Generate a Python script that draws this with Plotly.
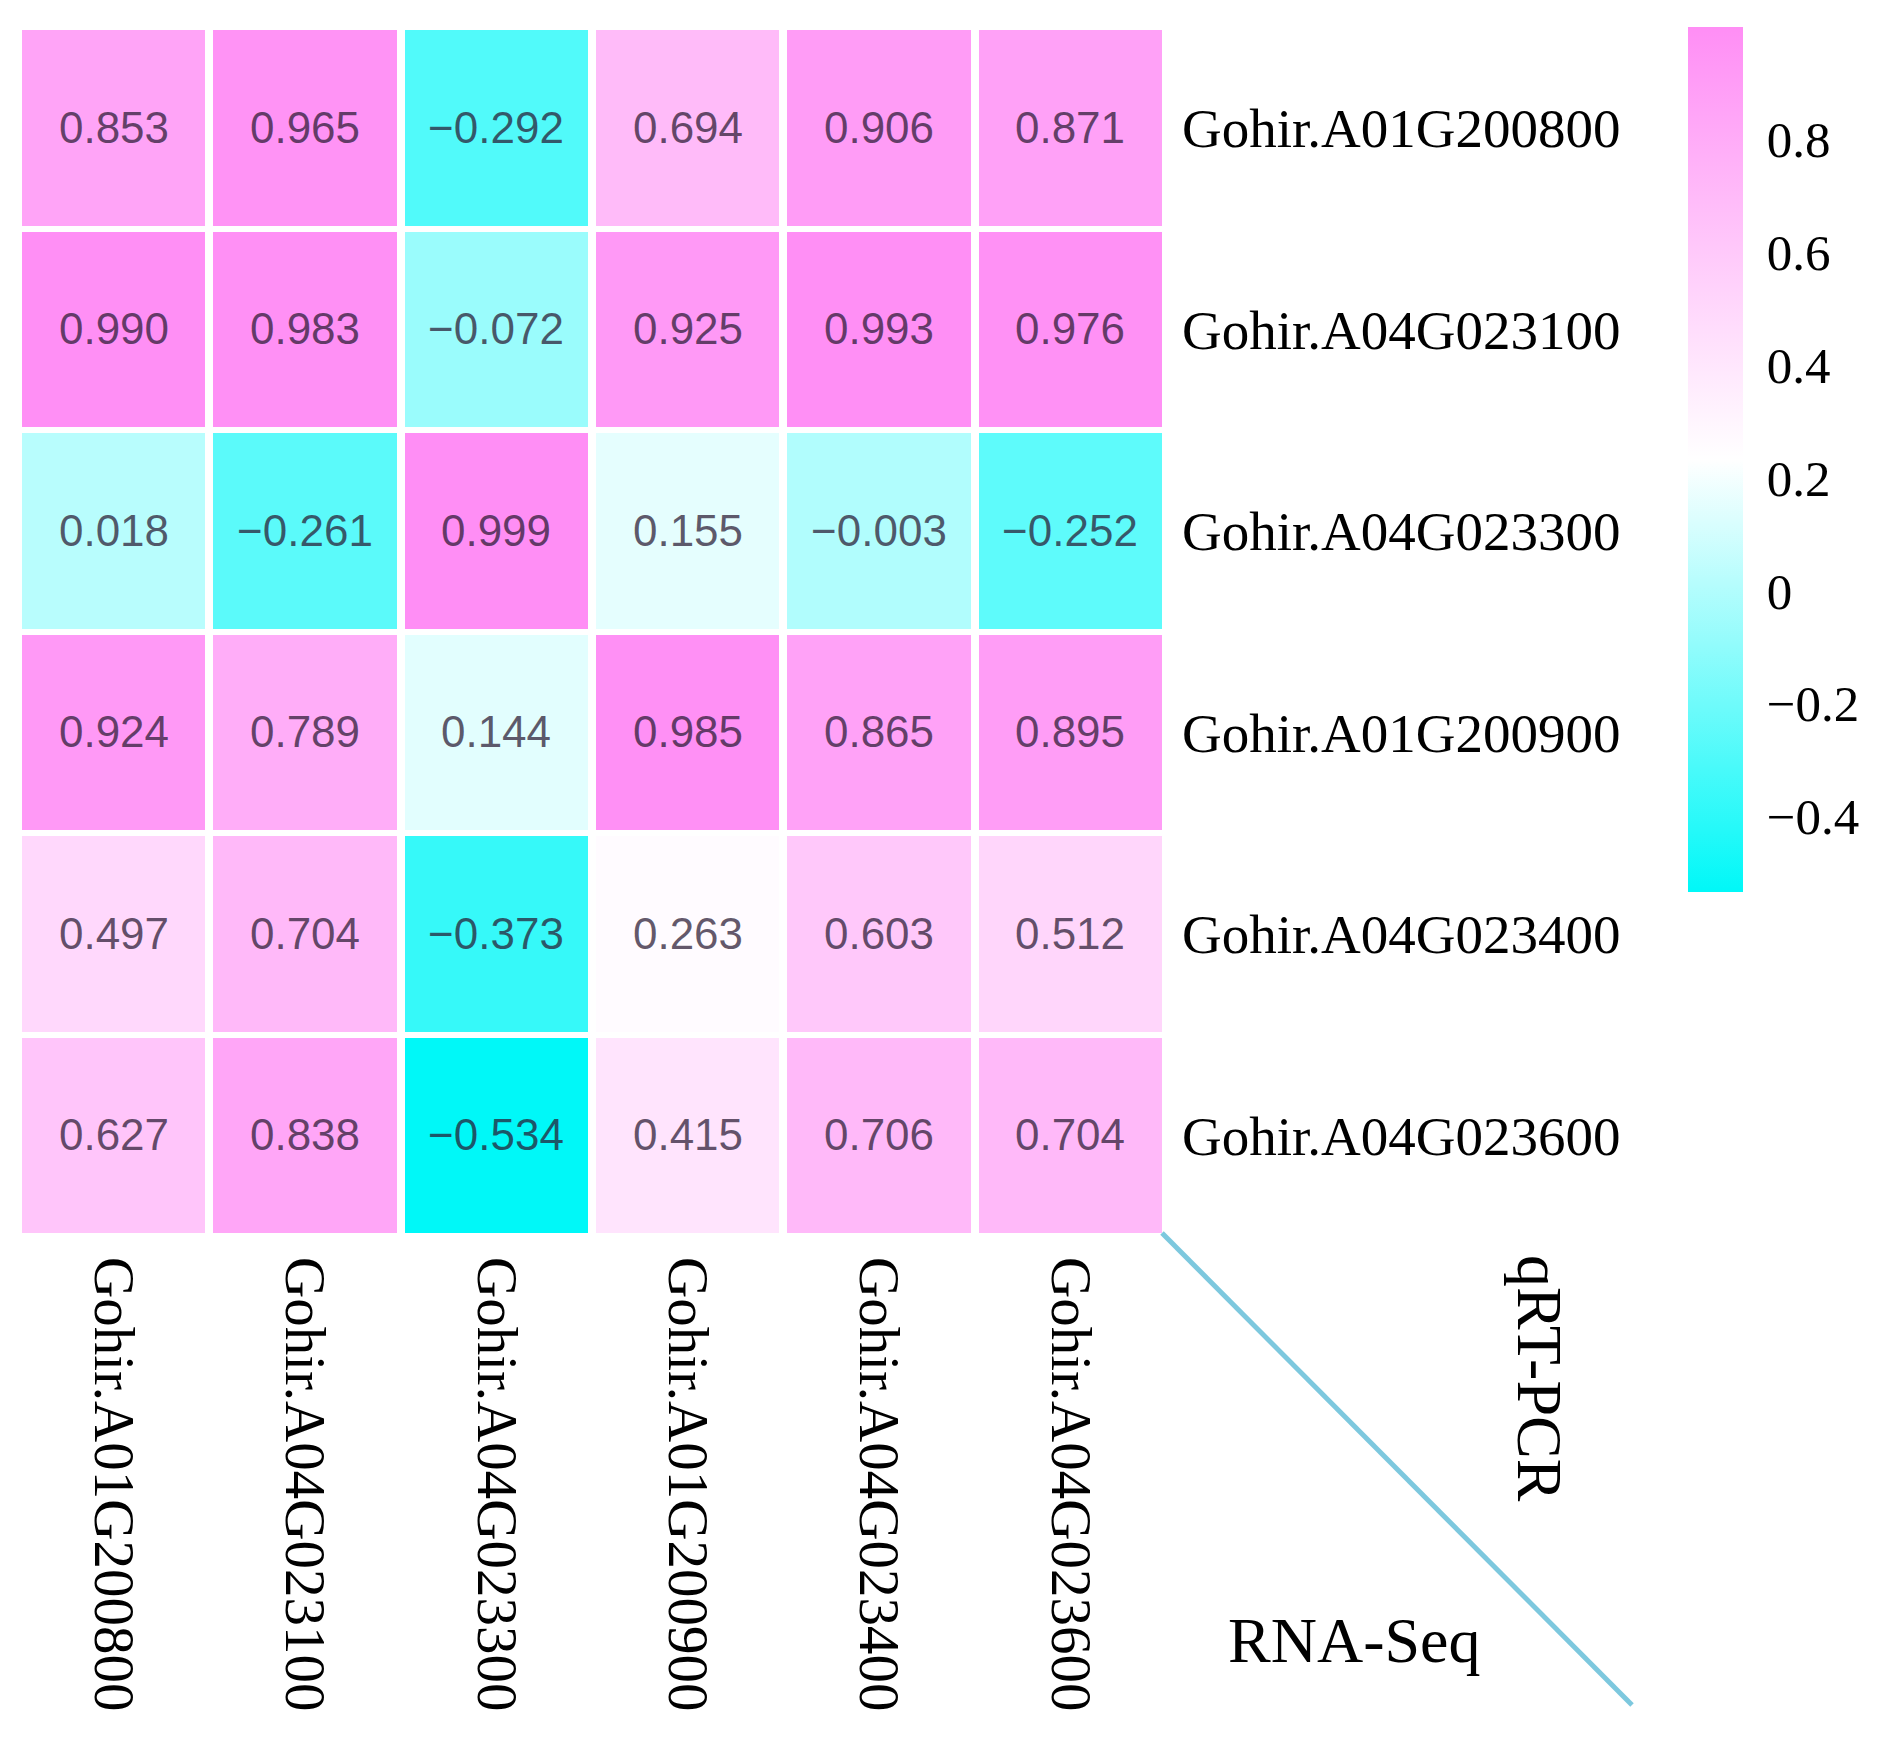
import plotly.graph_objects as go

# ---- data ----
row_labels = ["Gohir.A01G200800", "Gohir.A04G023100", "Gohir.A04G023300",
              "Gohir.A01G200900", "Gohir.A04G023400", "Gohir.A04G023600"]
col_labels = ["Gohir.A01G200800", "Gohir.A04G023100", "Gohir.A04G023300",
              "Gohir.A01G200900", "Gohir.A04G023400", "Gohir.A04G023600"]
corr_A01G200800 = [0.853, 0.965, -0.292, 0.694, 0.906, 0.871]
corr_A04G023100 = [0.990, 0.983, -0.072, 0.925, 0.993, 0.976]
corr_A04G023300 = [0.018, -0.261, 0.999, 0.155, -0.003, -0.252]
corr_A01G200900 = [0.924, 0.789, 0.144, 0.985, 0.865, 0.895]
corr_A04G023400 = [0.497, 0.704, -0.373, 0.263, 0.603, 0.512]
corr_A04G023600 = [0.627, 0.838, -0.534, 0.415, 0.706, 0.704]
z = [corr_A01G200800, corr_A04G023100, corr_A04G023300,
     corr_A01G200900, corr_A04G023400, corr_A04G023600]
colorbar_ticks = [-0.4, -0.2, 0, 0.2, 0.4, 0.6, 0.8]
qrt_label = "qRT-PCR"
rna_label = "RNA-Seq"

def fmt(v, nd):
    s = f"{abs(v):.{nd}f}"
    return ("\u2212" + s) if v < 0 else s

cell_text = [[fmt(v, 3) for v in row] for row in z]

W, H = 1891, 1750
OFF = 8  # page body margin
L, R, T, B = 18, 1166, 27, 1236  # plot area in page pixels
pw, ph = R - L, B - T

def px(x):
    return (x - L) / pw

def py(y):
    return (B - y) / ph

serif = "Liberation Serif, Times New Roman, serif"
sans = "Liberation Sans, Arial, sans-serif"

fig = go.Figure(go.Heatmap(
    z=z,
    x=list(range(len(col_labels))),
    y=list(range(len(row_labels))),
    text=cell_text,
    texttemplate="%{text}",
    colorscale=[[0.0, "rgb(0,248,248)"], [0.5, "rgb(255,255,255)"], [1.0, "rgb(255,142,245)"]],
    xgap=8, ygap=6,
    textfont=dict(family=sans, size=44, color="rgba(40,25,50,0.72)"),
    colorbar=dict(
        thickness=55, thicknessmode="pixels",
        len=865, lenmode="pixels",
        x=px(1688), xanchor="left", xpad=0,
        y=1.0, yanchor="top", ypad=0,
        outlinewidth=0,
        tickmode="array", tickvals=colorbar_ticks,
        ticktext=[fmt(v, 1) if v != 0 else "0" for v in colorbar_ticks],
        ticks="outside", ticklen=14, tickcolor="rgba(0,0,0,0)",
        tickfont=dict(family=serif, size=51, color="black"),
    ),
    hoverinfo="skip",
))

fig.update_xaxes(
    tickmode="array", tickvals=list(range(len(col_labels))), ticktext=col_labels,
    tickangle=90, side="bottom", showgrid=False, zeroline=False, showline=False,
    ticks="", ticklabelstandoff=20,
    tickfont=dict(family=serif, size=57, color="black"),
)
fig.update_yaxes(
    tickmode="array", tickvals=list(range(len(row_labels))), ticktext=row_labels,
    side="right", autorange="reversed", showgrid=False, zeroline=False, showline=False,
    ticks="", ticklabelstandoff=15,
    tickfont=dict(family=serif, size=55, color="black"),
)

fig.add_shape(type="line", xref="paper", yref="paper",
              x0=px(1162), y0=py(1233), x1=px(1632), y1=py(1705),
              line=dict(color="rgb(125,200,222)", width=5))

fig.add_annotation(xref="paper", yref="paper", x=px(1540), y=py(1378),
                   xanchor="center", yanchor="middle",
                   text=qrt_label, textangle=90, showarrow=False,
                   font=dict(family=serif, size=64, color="black"))
fig.add_annotation(xref="paper", yref="paper", x=px(1354), y=py(1640),
                   xanchor="center", yanchor="middle",
                   text=rna_label, showarrow=False,
                   font=dict(family=serif, size=64, color="black"))

fig.update_layout(
    width=W, height=H,
    margin=dict(l=L - OFF, r=W - R + OFF, t=T - OFF, b=H - B + OFF, pad=0),
    paper_bgcolor="white", plot_bgcolor="white",
)

fig.write_html("out.html")
